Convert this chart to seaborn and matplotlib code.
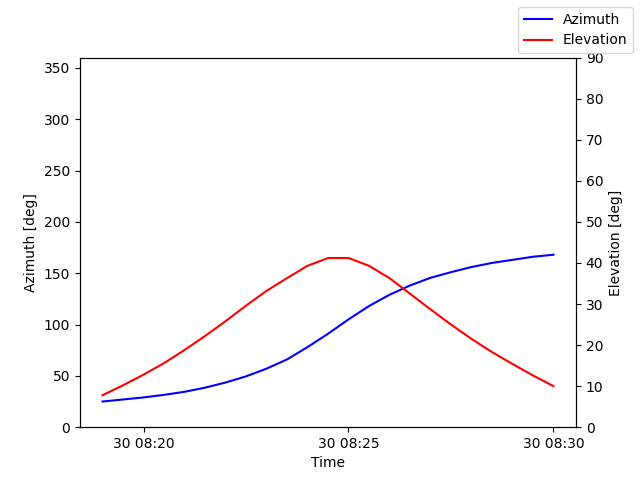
import matplotlib
matplotlib.use("Agg")
import matplotlib.pyplot as plt
import matplotlib.dates as mdates
import seaborn as sns
import pandas as pd

times = pd.date_range("2024-01-30 08:19:00", "2024-01-30 08:30:00", freq="30s")
azimuth = [25, 27, 29, 31.5, 34.5, 38.5, 43.5, 49.5, 57, 66, 78, 91, 105, 118, 129, 138,
           145.5, 151, 156, 160, 163, 166, 168]
elevation = [7.8, 10.2, 12.8, 15.6, 18.8, 22.2, 25.8, 29.6, 33.2, 36.3, 39.3, 41.2, 41.2,
             39.3, 36.3, 32.5, 28.7, 25, 21.5, 18.3, 15.4, 12.6, 10]

df = pd.DataFrame({"Time": times, "Azimuth": azimuth, "Elevation": elevation})

fig, ax = plt.subplots(figsize=(6.4, 4.8), dpi=100)
sns.lineplot(data=df, x="Time", y="Azimuth", color="blue", ax=ax, label="Azimuth", legend=False)
ax2 = ax.twinx()
sns.lineplot(data=df, x="Time", y="Elevation", color="red", ax=ax2, label="Elevation", legend=False)
ax.set_ylim(0, 360)
ax2.set_ylim(0, 90)
ax.set_ylabel("Azimuth [deg]")
ax2.set_ylabel("Elevation [deg]")
ax.set_xlabel("Time")
ax.xaxis.set_major_locator(mdates.MinuteLocator(byminute=[20, 25, 30]))
ax.xaxis.set_major_formatter(mdates.DateFormatter("%d %H:%M"))
fig.legend(loc="upper right")
fig.savefig("out.png", dpi=100)
